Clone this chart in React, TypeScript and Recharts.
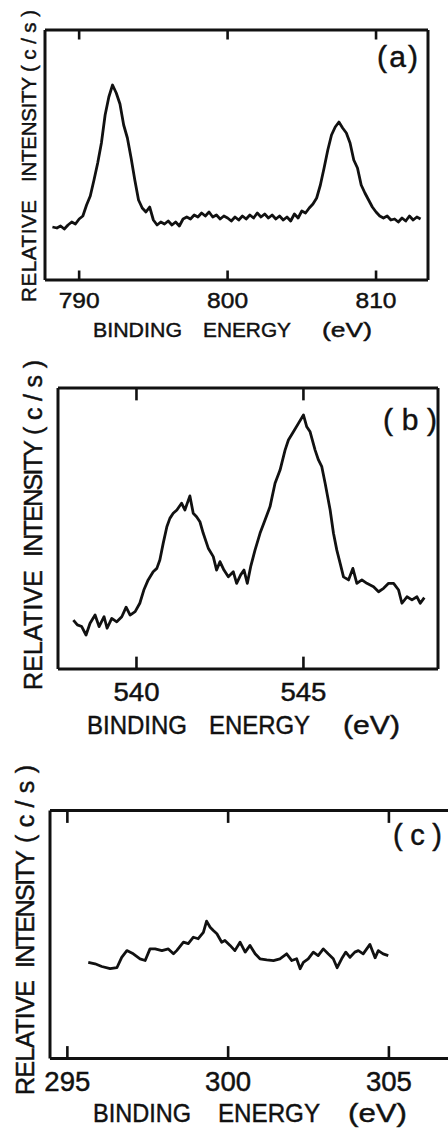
import { Line, LineChart, ReferenceLine, XAxis, YAxis } from 'recharts'

// panel (a): 788-813 eV
const ENERGY_A = [
  788.2, 788.5, 788.75, 789, 789.25, 789.5, 789.75, 790, 790.25, 790.5,
  790.75, 791, 791.25, 791.5, 791.75, 792, 792.25, 792.5, 792.75, 793,
  793.25, 793.5, 793.75, 794, 794.25, 794.5, 794.75, 795, 795.25, 795.5,
  795.75, 796, 796.25, 796.5, 796.75, 797, 797.25, 797.5, 797.75, 798,
  798.25, 798.5, 798.75, 799, 799.25, 799.5, 799.75, 800, 800.25, 800.5,
  800.75, 801, 801.25, 801.5, 801.75, 802, 802.25, 802.5, 802.75, 803,
  803.25, 803.5, 803.75, 804, 804.25, 804.5, 804.75, 805, 805.25, 805.5,
  805.75, 806, 806.25, 806.5, 806.75, 807, 807.25, 807.5, 807.75, 808,
  808.25, 808.5, 808.75, 809, 809.25, 809.5, 809.75, 810, 810.25, 810.5,
  810.75, 811, 811.25, 811.5, 811.75, 812, 812.25, 812.5, 812.75, 813,
]
const INTENSITY_A = [
  21.2, 20.8, 21.6, 20.4, 22.0, 23.2, 22.4, 24.4, 25.6, 30,
  33.6, 40, 46.8, 54.8, 66, 73.2, 78, 74.8, 70.4, 62,
  56.8, 48.8, 40, 32, 28.8, 27.2, 29.2, 24, 22, 23.2,
  22.4, 23.6, 22, 23.2, 21.6, 24.4, 25.2, 24.4, 26, 25.2,
  26.8, 25.6, 27.2, 25.2, 26, 24.4, 25.6, 24.8, 23.6, 25.2,
  24, 25.6, 24.4, 26, 24.8, 26.8, 25.2, 26.4, 24.8, 26,
  24.4, 25.6, 24, 25.2, 23.6, 26.4, 24.8, 27.6, 26.8, 28.8,
  30.4, 32.8, 38, 44.8, 52, 58, 61.2, 63.2, 60.8, 58.8,
  54.8, 48, 44.8, 38, 34.8, 32, 29.2, 27.2, 25.6, 24.8,
  25.6, 24, 24.4, 23.2, 24.8, 23.6, 25.6, 24, 25.2, 24.4,
]
const TICKS_A = [790, 800, 810]

// panel (b): 538-549 eV
const ENERGY_B = [
  538.11, 538.23, 538.36, 538.49, 538.61, 538.76, 538.88, 539.03, 539.12, 539.26,
  539.41, 539.56, 539.69, 539.81, 539.96, 540.1, 540.22, 540.35, 540.5, 540.61,
  540.7, 540.8, 540.91, 541.0, 541.1, 541.21, 541.35, 541.45, 541.6, 541.7,
  541.8, 541.9, 542.0, 542.15, 542.3, 542.4, 542.5, 542.62, 542.75, 542.9,
  543.0, 543.12, 543.22, 543.32, 543.42, 543.55, 543.7, 543.85, 544.0, 544.15,
  544.3, 544.45, 544.55, 544.7, 544.85, 545.0, 545.1, 545.2, 545.35, 545.45,
  545.55, 545.65, 545.8, 545.9, 546.0, 546.1, 546.2, 546.35, 546.48, 546.6,
  546.75, 546.9, 547.1, 547.25, 547.4, 547.55, 547.7, 547.85, 547.95, 548.1,
  548.25, 548.4, 548.5, 548.62,
]
const INTENSITY_B = [
  17.4, 15.7, 15.1, 12.1, 16.3, 19.2, 15.1, 18.6, 14.5, 18.0,
  16.8, 18.6, 22.0, 19.2, 20.4, 23.4, 28.1, 31.7, 34.6, 35.8,
  38.8, 44.7, 50.6, 53.6, 55.4, 56.6, 59.0, 56.6, 61.6, 55.4,
  54.2, 52.4, 48.3, 43.0, 40.0, 35.2, 38.2, 35.2, 32.8, 34.6,
  30.5, 33.5, 35.2, 30.5, 36.4, 42.3, 48.3, 53.0, 57.8, 66.1,
  70.8, 77.9, 81.5, 84.4, 87.4, 90.4, 86.2, 84.4, 77.9, 74.4,
  72.0, 66.1, 56.6, 48.3, 42.3, 37.6, 32.8, 31.7, 35.8, 30.5,
  31.7, 30.5, 29.3, 27.5, 28.7, 30.5, 30.5, 28.1, 23.4, 25.7,
  24.6, 25.7, 23.4, 25.4,
]
const TICKS_B = [540, 545]

// panel (c): 295-305 eV
const ENERGY_C = [
  295.65, 295.86, 296.07, 296.33, 296.54, 296.69, 296.85, 297.05, 297.26, 297.42,
  297.57, 297.73, 297.94, 298.14, 298.3, 298.4, 298.61, 298.76, 298.92, 299.07,
  299.23, 299.33, 299.44, 299.54, 299.65, 299.8, 299.9, 300.06, 300.21, 300.37,
  300.53, 300.68, 300.84, 300.99, 301.2, 301.41, 301.61, 301.82, 301.98, 302.13,
  302.24, 302.34, 302.49, 302.65, 302.8, 302.96, 303.11, 303.27, 303.39, 303.53,
  303.66, 303.79, 303.94, 304.05, 304.2, 304.41, 304.57, 304.67, 304.82, 304.98,
]
const INTENSITY_C = [
  38.8, 38.2, 37.1, 36.2, 36.6, 40.8, 43.5, 42.2, 40.2, 39.5,
  44.2, 44.2, 43.5, 44.2, 42.2, 43.5, 46.9, 46.3, 48.9, 48.3,
  50.9, 55.4, 52.9, 51.6, 50.3, 46.9, 47.6, 45.6, 43.5, 46.9,
  42.9, 45.6, 42.2, 40.2, 39.8, 39.5, 40.2, 42.2, 39.5, 40.2,
  36.2, 38.8, 40.2, 42.9, 41.5, 44.2, 42.2, 40.2, 36.6, 40.2,
  42.9, 40.8, 42.9, 43.5, 42.2, 46.0, 40.6, 43.5, 42.2, 41.5,
]
const TICKS_C = [295, 300, 305]

const FONT = '"Liberation Sans", Arial, Helvetica, sans-serif'
const INK = '#111'
// a thin outline thickens the glyphs a little, like the inked lettering
const TEXT_WEIGHT = { stroke: INK, strokeWidth: 0.45 }

interface TickProps {
  x?: number
  y?: number
  payload?: { value: number }
}

interface PanelProps {
  energy: number[]
  intensity: number[]
  ticks: number[]
  domain: [number, number]
  top: number
  width: number
  height: number
  // distances from the chart edges to the plot frame; the 1px axis boxes are taken off
  frame: { top: number; right: number; bottom: number; left: number }
  tickLen: number // in intensity units (axis runs 0..100)
  fontSize: number
  labelGap: number
  labelWidth: number
}

function SpectrumPanel(props: PanelProps) {
  const data = props.energy.map((e, i) => ({ energy: e, intensity: props.intensity[i] }))
  const { frame } = props
  const margin = {
    top: frame.top - 1,
    right: frame.right - 1,
    bottom: frame.bottom - 1,
    left: frame.left - 1,
  }

  const tickLabel = ({ x = 0, y = 0, payload }: TickProps) => (
    <text
      x={x}
      y={y + props.labelGap}
      textAnchor="middle"
      fontSize={props.fontSize}
      fontFamily={FONT}
      fill={INK}
      {...TEXT_WEIGHT}
      textLength={props.labelWidth}
      lengthAdjust="spacingAndGlyphs"
    >
      {payload?.value}
    </text>
  )

  const frameLine = { stroke: INK, strokeWidth: 3 }

  return (
    <div style={{ position: 'absolute', left: 0, top: props.top }}>
      <LineChart width={props.width} height={props.height} data={data} margin={margin}>
        <XAxis
          dataKey="energy"
          type="number"
          domain={props.domain}
          allowDataOverflow
          ticks={props.ticks}
          interval={0}
          height={1}
          tickSize={0}
          tickMargin={0}
          tickLine={false}
          tick={tickLabel}
          axisLine={frameLine}
        />
        <XAxis
          xAxisId="top"
          orientation="top"
          dataKey="energy"
          type="number"
          domain={props.domain}
          allowDataOverflow
          height={1}
          tick={false}
          tickLine={false}
          axisLine={frameLine}
        />
        <YAxis
          type="number"
          domain={[0, 100]}
          width={1}
          tick={false}
          tickLine={false}
          axisLine={frameLine}
        />
        <YAxis
          yAxisId="right"
          orientation="right"
          type="number"
          domain={[0, 100]}
          width={1}
          tick={false}
          tickLine={false}
          axisLine={frameLine}
        />
        {/* inward ticks on the bottom and top edges of the frame */}
        {props.ticks.map((t) => (
          <ReferenceLine
            key={`b${t}`}
            segment={[
              { x: t, y: 0 },
              { x: t, y: props.tickLen },
            ]}
            stroke={INK}
            strokeWidth={2.6}
            ifOverflow="visible"
          />
        ))}
        {props.ticks.map((t) => (
          <ReferenceLine
            key={`t${t}`}
            segment={[
              { x: t, y: 100 },
              { x: t, y: 100 - props.tickLen },
            ]}
            stroke={INK}
            strokeWidth={2.6}
            ifOverflow="visible"
          />
        ))}
        <Line
          type="linear"
          dataKey="intensity"
          stroke={INK}
          strokeWidth={2.8}
          strokeLinejoin="round"
          dot={false}
          isAnimationActive={false}
        />
      </LineChart>
    </div>
  )
}

interface Word {
  text: string
  at: number
  len: number
}

function XTitle({ words, baseline, size }: { words: Word[]; baseline: number; size: number }) {
  return (
    <>
      {words.map((w) => (
        <text
          key={w.text}
          x={w.at}
          y={baseline}
          fontSize={size}
          fontFamily={FONT}
          fill={INK}
          {...TEXT_WEIGHT}
          textLength={w.len}
          lengthAdjust="spacingAndGlyphs"
        >
          {w.text}
        </text>
      ))}
    </>
  )
}

// rotated label, each word starts at "at" (bottom) and reads upward
function YTitle({ words, baseline, size }: { words: Word[]; baseline: number; size: number }) {
  return (
    <>
      {words.map((w) => (
        <text
          key={w.text}
          transform={`translate(${baseline},${w.at}) rotate(-90)`}
          fontSize={size}
          fontFamily={FONT}
          fill={INK}
          {...TEXT_WEIGHT}
          textLength={w.len}
          lengthAdjust="spacing"
        >
          {w.text}
        </text>
      ))}
    </>
  )
}

function PanelTag({ text, right, baseline, size, len }: { text: string; right: number; baseline: number; size: number; len: number }) {
  return (
    <text
      x={right - len}
      y={baseline}
      fontSize={size}
      fontFamily={FONT}
      fill={INK}
      {...TEXT_WEIGHT}
      textLength={len}
      lengthAdjust="spacing"
    >
      {text}
    </text>
  )
}

export default function App() {
  return (
    <div
      style={{
        position: 'absolute',
        left: 0,
        top: 0,
        width: 448,
        height: 1128,
        overflow: 'hidden',
        background: '#fff',
      }}
    >
      <SpectrumPanel
        energy={ENERGY_A}
        intensity={INTENSITY_A}
        ticks={TICKS_A}
        domain={[787.7, 813.5]}
        top={0}
        width={448}
        height={312}
        frame={{ top: 30, right: 20, bottom: 32, left: 45 }}
        tickLen={3.8}
        fontSize={22}
        labelGap={28}
        labelWidth={41}
      />
      <SpectrumPanel
        energy={ENERGY_B}
        intensity={INTENSITY_B}
        ticks={TICKS_B}
        domain={[537.65, 549.03]}
        top={360}
        width={448}
        height={345}
        frame={{ top: 28, right: 10, bottom: 36, left: 58 }}
        tickLen={4.4}
        fontSize={25}
        labelGap={32}
        labelWidth={46}
      />
      <SpectrumPanel
        energy={ENERGY_C}
        intensity={INTENSITY_C}
        ticks={TICKS_C}
        domain={[294.46, 306.9]}
        top={780}
        width={452}
        height={315}
        frame={{ top: 30.5, right: 2, bottom: 36.5, left: 50 }}
        tickLen={5}
        fontSize={27}
        labelGap={32}
        labelWidth={46}
      />
      <svg
        width={448}
        height={1128}
        style={{ position: 'absolute', left: 0, top: 0, pointerEvents: 'none' }}
      >
        <YTitle
          baseline={35.5}
          size={20.5}
          words={[
            { text: 'RELATIVE', at: 302, len: 102 },
            { text: 'INTENSITY', at: 182, len: 105 },
            { text: '(c/s)', at: 72, len: 62 },
          ]}
        />
        <XTitle
          baseline={337}
          size={21}
          words={[
            { text: 'BINDING', at: 93, len: 89 },
            { text: 'ENERGY', at: 203, len: 88 },
            { text: '(eV)', at: 322, len: 50 },
          ]}
        />
        <PanelTag text="(a)" right={418} baseline={67} size={30} len={41} />

        <YTitle
          baseline={41.5}
          size={25}
          words={[
            { text: 'RELATIVE', at: 690, len: 120 },
            { text: 'INTENSITY', at: 557, len: 117 },
            { text: '(c/s)', at: 435, len: 75 },
          ]}
        />
        <XTitle
          baseline={734}
          size={26}
          words={[
            { text: 'BINDING', at: 87, len: 100 },
            { text: 'ENERGY', at: 209, len: 101 },
            { text: '(eV)', at: 343, len: 57 },
          ]}
        />
        <PanelTag text="(b)" right={437} baseline={430} size={30} len={54} />

        <YTitle
          baseline={33.5}
          size={25}
          words={[
            { text: 'RELATIVE', at: 1095, len: 115 },
            { text: 'INTENSITY', at: 968, len: 118 },
            { text: '(c/s)', at: 843, len: 78 },
          ]}
        />
        <XTitle
          baseline={1122}
          size={26}
          words={[
            { text: 'BINDING', at: 93, len: 98 },
            { text: 'ENERGY', at: 218, len: 102 },
            { text: '(eV)', at: 348, len: 59 },
          ]}
        />
        <PanelTag text="(c)" right={442} baseline={845} size={29} len={49} />
      </svg>
    </div>
  )
}
